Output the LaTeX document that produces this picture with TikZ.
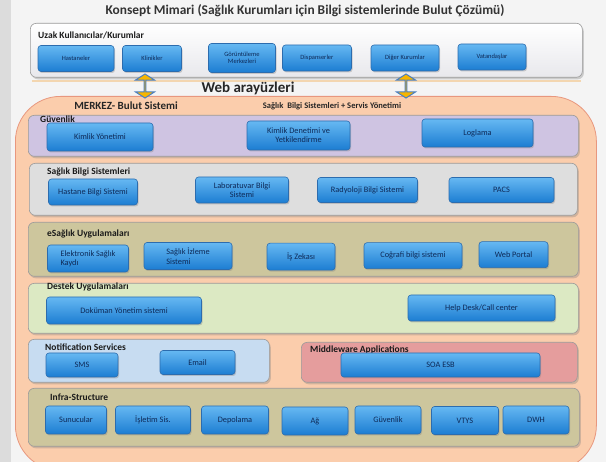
\documentclass[tikz,border=0pt]{standalone}
\usepackage{fontspec}
\setmainfont{Carlito}
\usetikzlibrary{shapes.arrows,shadows}
\definecolor{bg}{HTML}{F4F4F4}
\definecolor{strip}{HTML}{DCDCDC}
\definecolor{btnborder}{HTML}{2C6CAE}
\definecolor{btntop}{HTML}{66B8F2}
\definecolor{btnbot}{HTML}{1C7DD2}
\definecolor{btntext}{HTML}{0E2A58}
\definecolor{panelborder}{HTML}{9A9A9A}
\definecolor{labeltext}{HTML}{1A1A1A}
\definecolor{orangefill}{HTML}{FBCDAC}
\definecolor{orangeborder}{HTML}{E8977E}
\definecolor{topfill}{HTML}{E8E8EC}
\definecolor{guvfill}{HTML}{CFC4E2}
\definecolor{sbsfill}{HTML}{DEDEDE}
\definecolor{khaki}{HTML}{CDC69D}
\definecolor{destekfill}{HTML}{DCE9C3}
\definecolor{notiffill}{HTML}{C7DCF1}
\definecolor{midfill}{HTML}{E59D9D}
\definecolor{arrowfill}{HTML}{F6B500}
\definecolor{arrowborder}{HTML}{4A7FC2}
\definecolor{lineorange}{HTML}{F3D6B0}
\begin{document}
\begin{tikzpicture}[x=1pt,y=-1pt,
  btn/.style={rounded corners=3pt, draw=btnborder, line width=0.6pt,
    top color=btntop, bottom color=btnbot, text=btntext,
    font=\fontsize{8.3}{9.3}\selectfont, align=center, inner sep=1pt,
    drop shadow={shadow xshift=1pt, shadow yshift=-1.5pt, opacity=0.35}},
  tbtn/.style={btn, font=\fontsize{6.5}{7.5}\selectfont},
  panel/.style={rounded corners=6pt, draw=panelborder, line width=0.6pt,
    anchor=north west, inner sep=0pt,
    drop shadow={shadow xshift=1.5pt, shadow yshift=-2pt, opacity=0.35}},
  plabel/.style={anchor=west, font=\bfseries\fontsize{9.5}{10}\selectfont,
    text=labeltext, inner sep=0pt},
  dblarrow/.style={double arrow, rotate=90, draw=arrowborder, line width=1pt,
    fill=arrowfill, minimum height=24pt, minimum width=19pt,
    double arrow tip angle=115, double arrow head extend=4.5pt, inner sep=0pt}
]
\useasboundingbox (0,0) rectangle (606,462);
\clip (0,0) rectangle (606,462);
\fill[bg] (0,0) rectangle (606,462);
\fill[strip] (0,0) rectangle (11,462);

% title
\node (title) at (305,11) {\bfseries\fontsize{13.4}{15}\selectfont\color{black!80}Konsept Mimari (Sağlık Kurumları için Bilgi sistemlerinde Bulut Çözümü)};

% top box
\node[panel, top color=white, bottom color=topfill, minimum width=552pt, minimum height=54pt] (topbox) at (30,23) {};
\node[plabel] (toplabel) at (38,35) {Uzak Kullanıcılar/Kurumlar};
\node[tbtn, minimum width=76pt, minimum height=26pt] (hast) at (76,58.5) {Hastaneler};
\node[tbtn, minimum width=59pt, minimum height=26pt] (klin) at (152,58.5) {Klinikler};
\node[tbtn, minimum width=67pt, minimum height=29pt] (goru) at (242,58) {Görüntüleme\\Merkezleri};
\node[tbtn, minimum width=69pt, minimum height=26pt] (disp) at (317,58) {Dispanserler};
\node[tbtn, minimum width=68pt, minimum height=26pt] (diger) at (405,58) {Diğer Kurumlar};
\node[tbtn, minimum width=68pt, minimum height=26pt] (vat) at (492,57) {Vatandaşlar};
\draw[lineorange, line width=2pt] (topbox.south west) ++(2pt,-3pt) coordinate (lnA) -- ([xshift=-2pt,yshift=-3pt]topbox.south east) coordinate (lnB);

% orange cloud system
\node[anchor=north west, rounded corners=45pt, draw=orangeborder, line width=0.8pt, fill=orangefill,
  minimum width=581pt, minimum height=374pt, inner sep=0pt] (merkez) at (15,96) {};

% double arrows
\node[dblarrow] (arrL) at (145,86) {};
\node[dblarrow] (arrR) at (406,86) {};
\node (web) at (248,88) {\bfseries\fontsize{15}{16}\selectfont\color{black!85}Web arayüzleri};

\node (merkezlabel) at (126,106) {\bfseries\fontsize{11}{12}\selectfont\color{black!85}MERKEZ- Bulut Sistemi};
\node (servis) at (332,106) {\bfseries\fontsize{8.5}{9}\selectfont\color{black!85}Sağlık\ \ Bilgi Sistemleri + Servis Yönetimi};

% Guvenlik
\node[panel, fill=guvfill, minimum width=550pt, minimum height=41pt] (guv) at (28,115) {};
\node[plabel] (guvlabel) at (40,119.5) {Güvenlik};
\node[btn, minimum width=106pt, minimum height=28pt] (kimlik) at (100,137) {Kimlik Yönetimi};
\node[btn, minimum width=103pt, minimum height=29pt] (denet) at (298.5,135.5) {Kimlik Denetimi ve\\Yetkilendirme};
\node[btn, minimum width=111pt, minimum height=28pt] (log) at (477.5,133) {Loglama};

% Saglik Bilgi Sistemleri
\node[panel, fill=sbsfill, minimum width=548pt, minimum height=52pt] (sbs) at (29,163) {};
\node[plabel] (sbslabel) at (47,171.5) {Sağlık Bilgi Sistemleri};
\node[btn, minimum width=89pt, minimum height=26pt] (hbs) at (93,192) {Hastane Bilgi Sistemi};
\node[btn, minimum width=93pt, minimum height=26pt] (lab) at (242,190) {Laboratuvar Bilgi\\Sistemi};
\node[btn, minimum width=100pt, minimum height=25pt] (rad) at (367.5,190) {Radyoloji Bilgi Sistemi};
\node[btn, minimum width=105pt, minimum height=25pt] (pacs) at (501.5,190) {PACS};

% eSaglik
\node[panel, fill=khaki, minimum width=550pt, minimum height=54pt] (esag) at (28,222) {};
\node[plabel] (esaglabel) at (47,234) {eSağlık Uygulamaları};
\node[btn, align=left, minimum width=81pt, minimum height=27pt] (eskayit) at (88,258.5) {Elektronik Sağlık\\Kaydı};
\node[btn, align=left, minimum width=88pt, minimum height=27pt] (izleme) at (188,256) {Sağlık İzleme\\Sistemi};
\node[btn, minimum width=68pt, minimum height=27pt] (iszeka) at (301,256.7) {İş Zekası};
\node[btn, minimum width=98pt, minimum height=26pt] (cbs) at (413,255.7) {Coğrafi bilgi sistemi};
\node[btn, minimum width=69pt, minimum height=26pt] (portal) at (513.5,254.7) {Web Portal};

% Destek
\node[panel, fill=destekfill, minimum width=550pt, minimum height=50pt] (destek) at (28,283) {};
\node[plabel] (desteklabel) at (47,286.5) {Destek Uygulamaları};
\node[btn, minimum width=155pt, minimum height=27pt] (dok) at (124,310.5) {Doküman Yönetim sistemi};
\node[btn, minimum width=147pt, minimum height=26pt] (help) at (481.5,308) {Help Desk/Call center};

% Notification
\node[panel, fill=notiffill, minimum width=241pt, minimum height=43pt] (notif) at (28,339) {};
\node[plabel] (notiflabel) at (45,347) {Notification Services};
\node[btn, minimum width=72pt, minimum height=24pt] (sms) at (82,365) {SMS};
\node[btn, minimum width=75pt, minimum height=24pt] (email) at (197.5,362.5) {Email};

% Middleware
\node[panel, fill=midfill, minimum width=276pt, minimum height=40pt] (mid) at (301,342) {};
\node[plabel] (midlabel) at (310,350) {Middleware Applications};
\node[btn, minimum width=199pt, minimum height=24pt] (soa) at (440.5,365) {SOA ESB};

% Infra
\node[panel, fill=khaki, minimum width=551pt, minimum height=58pt] (infra) at (28,388) {};
\node[plabel] (infralabel) at (50,397) {Infra-Structure};
\node[btn, minimum width=61pt, minimum height=28pt] (sunucu) at (76,420) {Sunucular};
\node[btn, minimum width=75pt, minimum height=28pt] (isletim) at (153,420) {İşletim Sis.};
\node[btn, minimum width=67pt, minimum height=28pt] (depo) at (235,420) {Depolama};
\node[btn, minimum width=66pt, minimum height=28pt] (ag) at (315,421) {Ağ};
\node[btn, minimum width=66pt, minimum height=28pt] (guvenlik2) at (388,420) {Güvenlik};
\node[btn, minimum width=67pt, minimum height=28pt] (vtys) at (465,420.5) {VTYS};
\node[btn, minimum width=66pt, minimum height=28pt] (dwh) at (536,420) {DWH};
\end{tikzpicture}
\end{document}
